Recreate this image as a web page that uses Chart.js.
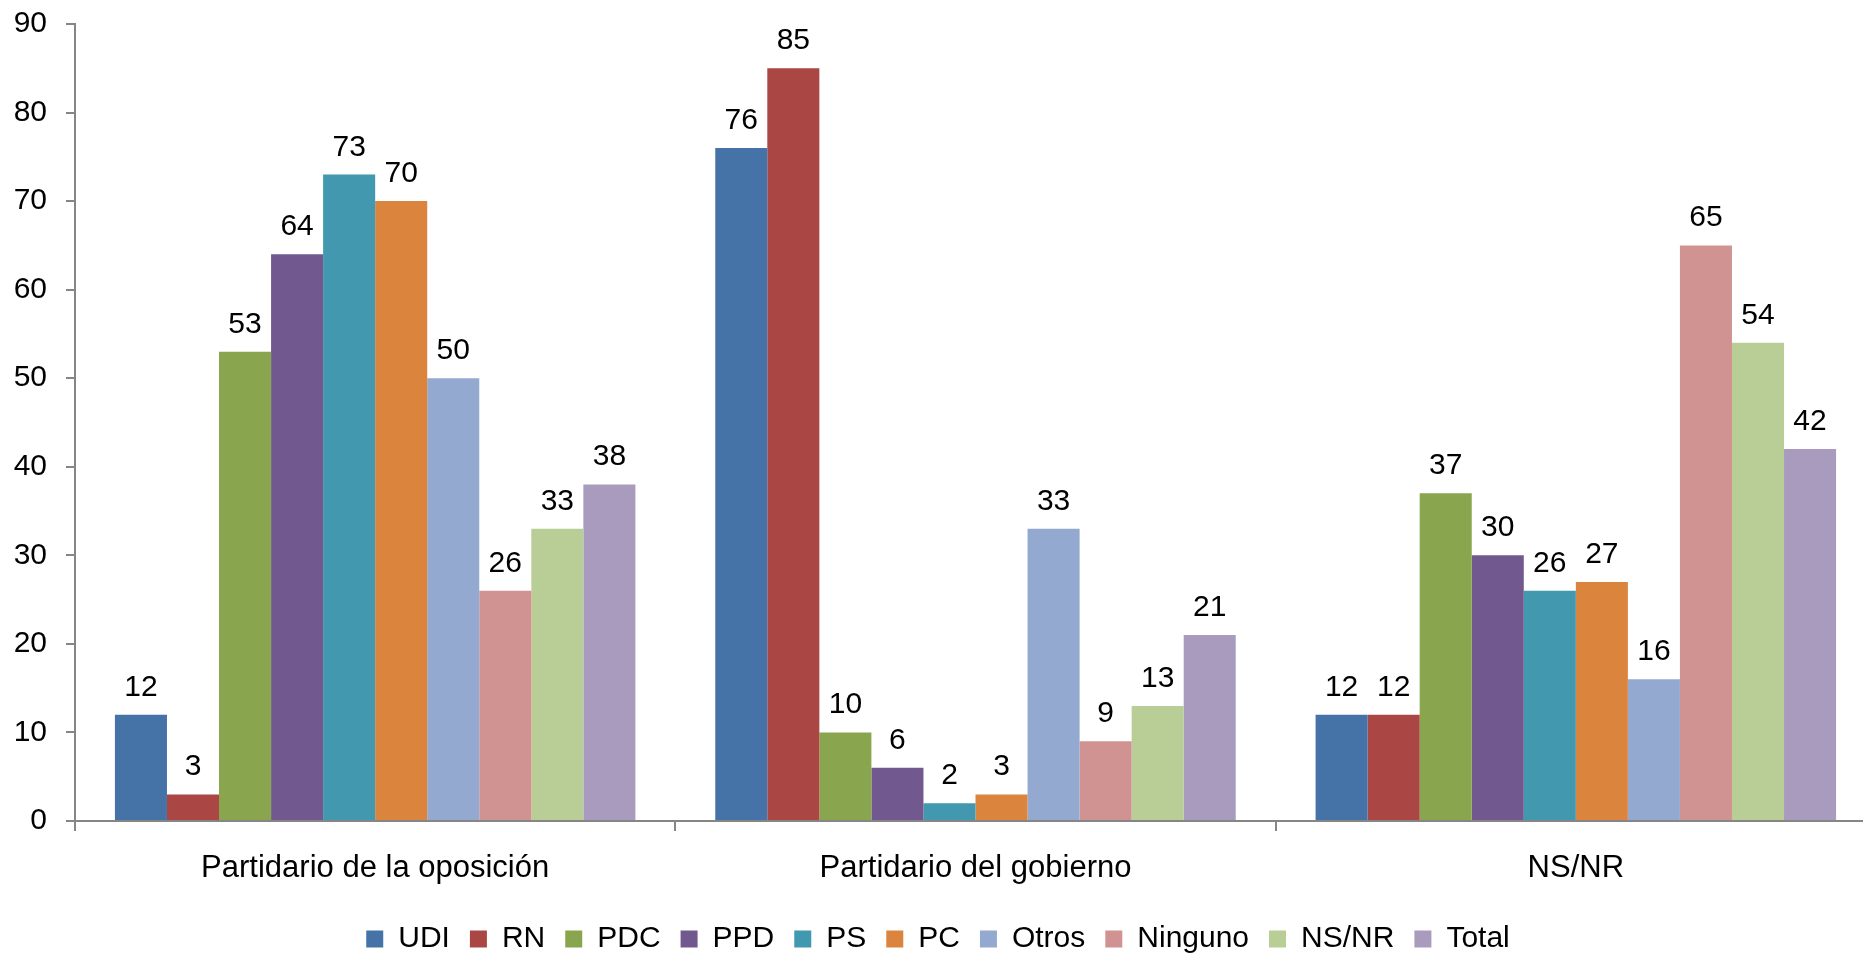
<!DOCTYPE html>
<html lang="es">

<head>
    <meta charset="UTF-8">
    <title>Partidario de la oposición / del gobierno</title>
    <script src="https://cdn.jsdelivr.net/npm/chart.js"></script>
    <style>
        html, body {
            margin: 0;
            padding: 0;
            background-color: #fff;
            overflow: hidden;
        }

        .grafico {
            width: 1876px;
            height: 958px;
        }
    </style>
</head>

<body>

    <div class="grafico">
        <canvas id="graficoBarras" width="1876" height="958"></canvas>
    </div>

    <script>
        var categorias = ['Partidario de la oposición', 'Partidario del gobierno', 'NS/NR'];
        var partidos = ['UDI', 'RN', 'PDC', 'PPD', 'PS', 'PC', 'Otros', 'Ninguno', 'NS/NR', 'Total'];
        var colores = ['#4572A7', '#AA4643', '#89A54E', '#71588F', '#4198AF', '#DB843D', '#93A9CF', '#D19392', '#B9CD96', '#A99BBD'];

        // valores por partido: [oposición, gobierno, NS/NR]
        var datosUDI = [12, 76, 12];
        var datosRN = [3, 85, 12];
        var datosPDC = [53, 10, 37];
        var datosPPD = [64, 6, 30];
        var datosPS = [73, 2, 26];
        var datosPC = [70, 3, 27];
        var datosOtros = [50, 33, 16];
        var datosNinguno = [26, 9, 65];
        var datosNSNR = [33, 13, 54];
        var datosTotal = [38, 21, 42];

        var marcasY = [0, 10, 20, 30, 40, 50, 60, 70, 80, 90];

        var series = [datosUDI, datosRN, datosPDC, datosPPD, datosPS, datosPC, datosOtros, datosNinguno, datosNSNR, datosTotal];

        Chart.defaults.font.family = '"Liberation Sans", Arial, sans-serif';
        Chart.defaults.color = '#000';

        // etiquetas de valor encima de cada barra
        var etiquetasValor = {
            id: 'etiquetasValor',
            afterDatasetsDraw: function (chart) {
                var ctx = chart.ctx;
                ctx.save();
                ctx.font = '30px "Liberation Sans", Arial, sans-serif';
                ctx.fillStyle = '#000';
                ctx.textAlign = 'center';
                ctx.textBaseline = 'alphabetic';
                chart.data.datasets.forEach(function (ds, i) {
                    chart.getDatasetMeta(i).data.forEach(function (barra, j) {
                        ctx.fillText(ds.data[j], barra.x, barra.y - 19);
                    });
                });
                ctx.restore();
            }
        };

        var contexto = document.getElementById('graficoBarras').getContext('2d');
        var grafico = new Chart(contexto, {
            type: 'bar',
            data: {
                labels: categorias,
                datasets: partidos.map(function (p, i) {
                    return {
                        label: p,
                        data: series[i],
                        backgroundColor: colores[i],
                        borderWidth: 0,
                        categoryPercentage: 0.867,
                        barPercentage: 1
                    };
                })
            },
            options: {
                responsive: false,
                animation: false,
                layout: {
                    padding: { top: 24, left: 0, right: 0, bottom: -6 }
                },
                plugins: {
                    tooltip: { enabled: false },
                    legend: {
                        position: 'bottom',
                        labels: {
                            boxWidth: 17,
                            boxHeight: 17,
                            padding: 20,
                            font: { size: 30 },
                            color: '#000'
                        }
                    }
                },
                scales: {
                    x: {
                        grid: {
                            drawOnChartArea: false,
                            drawTicks: true,
                            tickLength: 10,
                            color: '#868686',
                            lineWidth: 2
                        },
                        border: { color: '#868686', width: 2 },
                        ticks: {
                            font: { size: 31 },
                            padding: 19,
                            maxRotation: 0
                        },
                        afterFit: function (escala) {
                            escala.height = 83;
                        }
                    },
                    y: {
                        min: 0,
                        max: 90,
                        afterBuildTicks: function (escala) {
                            escala.ticks = marcasY.map(function (v) { return { value: v }; });
                        },
                        grid: {
                            drawOnChartArea: false,
                            drawTicks: true,
                            tickLength: 9,
                            color: '#868686',
                            lineWidth: 2
                        },
                        border: { color: '#868686', width: 2 },
                        ticks: {
                            font: { size: 30 },
                            padding: 19
                        },
                        afterFit: function (escala) {
                            escala.width = 75;
                            escala.paddingTop = 0;
                            escala.paddingBottom = 0;
                        }
                    }
                }
            },
            plugins: [etiquetasValor]
        });
    </script>

</body>

</html>
